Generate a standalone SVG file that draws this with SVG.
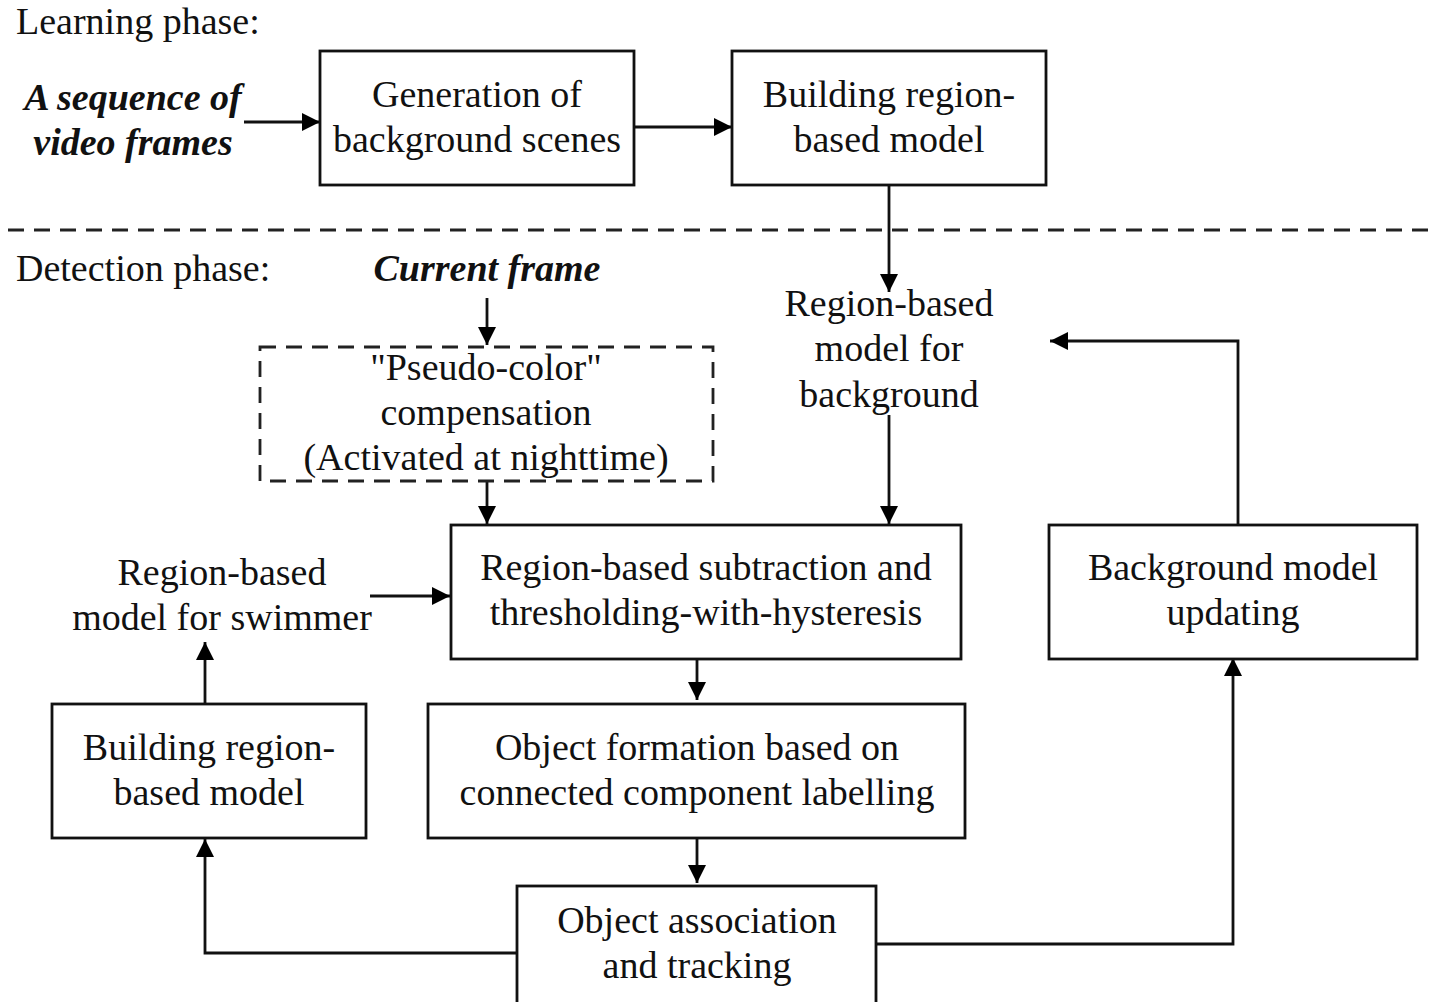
<svg xmlns="http://www.w3.org/2000/svg" width="1437" height="1002" viewBox="0 0 1437 1002">
<defs>
<marker id="ah" viewBox="0 0 18 18" refX="18" refY="9" markerWidth="18" markerHeight="18" markerUnits="userSpaceOnUse" orient="auto">
<path d="M0,0 L18,9 L0,18 Z" fill="#000"/>
</marker>
<style>
text{font-family:"Liberation Serif","Times New Roman",serif;font-size:38px;fill:#111;}
.c{text-anchor:middle;}
.bi{font-weight:bold;font-style:italic;}
.box{fill:#fff;stroke:#111;stroke-width:2.8;}
.dbox{fill:none;stroke:#222;stroke-width:2.8;stroke-dasharray:16,10;}
.ar{fill:none;stroke:#111;stroke-width:2.8;marker-end:url(#ah);}
</style>
</defs>
<rect width="1437" height="1002" fill="#fff"/>
<g id="labels">
<text x="16" y="34">Learning phase:</text>
<text x="16" y="281">Detection phase:</text>
<line x1="8" y1="230" x2="1437" y2="230" class="dbox"/>
</g>
<g id="connectors">
<line x1="244" y1="122" x2="320" y2="122" class="ar"/>
<line x1="634" y1="127" x2="732" y2="127" class="ar"/>
<line x1="889" y1="185" x2="889" y2="292" class="ar"/>
<line x1="487" y1="298" x2="487" y2="345" class="ar"/>
<line x1="487" y1="482" x2="487" y2="524" class="ar"/>
<line x1="889" y1="415" x2="889" y2="524" class="ar"/>
<polyline points="1238,525 1238,341 1050,341" class="ar"/>
<line x1="370" y1="596" x2="450" y2="596" class="ar"/>
<line x1="205" y1="704" x2="205" y2="642" class="ar"/>
<line x1="697" y1="659" x2="697" y2="700" class="ar"/>
<line x1="697" y1="838" x2="697" y2="883" class="ar"/>
<polyline points="517,953 205,953 205,839" class="ar"/>
<polyline points="876,944 1233,944 1233,658" class="ar"/>
</g>
<g id="seq">
<text x="133" y="110" class="c bi">A sequence of</text>
<text x="133" y="155" class="c bi">video frames</text>
</g>
<g id="gen">
<rect x="320" y="51" width="314" height="134" class="box"/>
<text x="477" y="107" class="c">Generation of</text>
<text x="477" y="152" class="c">background scenes</text>
</g>
<g id="build1">
<rect x="732" y="51" width="314" height="134" class="box"/>
<text x="889" y="107" class="c">Building region-</text>
<text x="889" y="152" class="c">based model</text>
</g>
<g id="current">
<text x="487" y="281" class="c bi">Current frame</text>
</g>
<g id="pseudo">
<rect x="260" y="347" width="453" height="134" class="dbox"/>
<text x="486" y="380" class="c">"Pseudo-color"</text>
<text x="486" y="425" class="c">compensation</text>
<text x="486" y="470" class="c">(Activated at nighttime)</text>
</g>
<g id="bgmodel">
<text x="889" y="316" class="c">Region-based</text>
<text x="889" y="361" class="c">model for</text>
<text x="889" y="407" class="c">background</text>
</g>
<g id="subtract">
<rect x="451" y="525" width="510" height="134" class="box"/>
<text x="706" y="580" class="c">Region-based subtraction and</text>
<text x="706" y="625" class="c">thresholding-with-hysteresis</text>
</g>
<g id="update">
<rect x="1049" y="525" width="368" height="134" class="box"/>
<text x="1233" y="580" class="c">Background model</text>
<text x="1233" y="625" class="c">updating</text>
</g>
<g id="swimmer">
<text x="222" y="585" class="c">Region-based</text>
<text x="222" y="630" class="c">model for swimmer</text>
</g>
<g id="build2">
<rect x="52" y="704" width="314" height="134" class="box"/>
<text x="209" y="760" class="c">Building region-</text>
<text x="209" y="805" class="c">based model</text>
</g>
<g id="formation">
<rect x="428" y="704" width="537" height="134" class="box"/>
<text x="697" y="760" class="c">Object formation based on</text>
<text x="697" y="805" class="c">connected component labelling</text>
</g>
<g id="assoc">
<rect x="517" y="886" width="359" height="125" class="box"/>
<text x="697" y="933" class="c">Object association</text>
<text x="697" y="978" class="c">and tracking</text>
</g>
</svg>
